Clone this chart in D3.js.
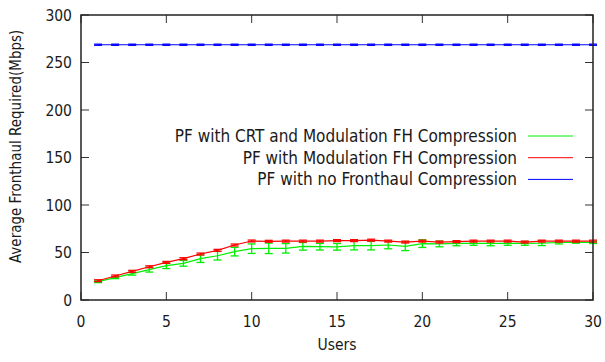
<!DOCTYPE html>
<html>
<head>
<meta charset="utf-8">
<script src="https://cdn.jsdelivr.net/npm/d3@7"></script>
<style>
  body { margin: 0; background: #fff; }
  svg text { font-family: "DejaVu Sans Condensed", "DejaVu Sans", sans-serif; fill: #1a1a1a; }
</style>
</head>
<body>
<div id="container"></div>
<script>
// data
const users = d3.range(1, 31)
const crtMean = [19.3, 23.5, 27.7, 31.9, 36.1, 38.6, 43.5, 46.6, 50.9, 54, 54.4, 54.4, 56.5, 56.1, 56, 57.2, 57.2, 57.9, 56.5, 59.3, 59, 59.6, 59.6, 59.6, 59.6, 59.6, 59.8, 60.5, 60.8, 60.5]
const crtErr = [1, 1, 1.5, 2.5, 3, 3, 4, 4.5, 4.5, 5, 5.5, 5, 4, 3.5, 3.5, 4.5, 4.5, 4, 4.5, 4, 3, 2.5, 2, 2.5, 2, 2, 2.5, 1.5, 1, 1]
const modMean = [20.3, 25.3, 30.2, 35, 39.6, 43.5, 48.4, 52.3, 57.9, 62.1, 61.8, 62, 62, 62, 62.5, 62.5, 63, 62, 61, 62, 61, 61.5, 62, 62, 62, 61, 62, 62, 62, 62]
const modErr = users.map(() => 1)
const noCompMean = users.map(() => 268.7)
const xTicks = [0, 5, 10, 15, 20, 25, 30]
const yTicks = [0, 50, 100, 150, 200, 250, 300]
const seriesNames = ["PF with CRT and Modulation FH Compression", "PF with Modulation FH Compression", "PF with no Fronthaul Compression"]
const seriesColors = ["#00ee00", "#ff0000", "#0000ff"]

const w = 605, h = 362
const m = { top: 15, right: 12, bottom: 62, left: 81 }
const fs = 15.5

const svg = d3.select("#container").append("svg")
    .attr("width", w).attr("height", h)

const x = d3.scaleLinear().domain([0, 30]).range([m.left, w - m.right])
const y = d3.scaleLinear().domain([0, 300]).range([h - m.bottom, m.top])

// ticks (inward, mirrored like gnuplot)
const tickLen = 8
const axes = svg.append("g").attr("stroke", "#333").attr("stroke-width", 1)
xTicks.forEach(t => {
    axes.append("line").attr("x1", x(t)).attr("x2", x(t)).attr("y1", y(0)).attr("y2", y(0) - tickLen)
    axes.append("line").attr("x1", x(t)).attr("x2", x(t)).attr("y1", y(300)).attr("y2", y(300) + tickLen)
})
yTicks.forEach(t => {
    axes.append("line").attr("y1", y(t)).attr("y2", y(t)).attr("x1", x(0)).attr("x2", x(0) + tickLen)
    axes.append("line").attr("y1", y(t)).attr("y2", y(t)).attr("x1", x(30)).attr("x2", x(30) - tickLen)
})

svg.selectAll(".xl").data(xTicks).join("text")
    .attr("x", d => x(d)).attr("y", y(0) + 27)
    .attr("text-anchor", "middle").attr("font-size", fs).text(d => d)
svg.selectAll(".yl").data(yTicks).join("text")
    .attr("x", 72).attr("y", d => y(d) + 5.5)
    .attr("text-anchor", "end").attr("font-size", fs).text(d => d)

svg.append("text").attr("x", (x(0) + x(30)) / 2).attr("y", 350)
    .attr("text-anchor", "middle").attr("font-size", fs).text("Users")
svg.append("text").attr("transform", "translate(21,263) rotate(-90)")
    .attr("text-anchor", "start").attr("font-size", 15).text("Average Fronthaul Required(Mbps)")

// series with error bars
const line = d3.line().x((d, i) => x(users[i])).y(d => y(d))
function drawSeries(means, errs, color) {
    const g = svg.append("g")
    const capW = 4
    users.forEach((u, i) => {
        const lo = y(means[i] - errs[i]), hi = y(means[i] + errs[i])
        g.append("line").attr("x1", x(u)).attr("x2", x(u)).attr("y1", lo).attr("y2", hi)
            .attr("stroke", color).attr("stroke-width", 1.3)
        g.append("line").attr("x1", x(u) - capW).attr("x2", x(u) + capW).attr("y1", lo).attr("y2", lo)
            .attr("stroke", color).attr("stroke-width", 1.3)
        g.append("line").attr("x1", x(u) - capW).attr("x2", x(u) + capW).attr("y1", hi).attr("y2", hi)
            .attr("stroke", color).attr("stroke-width", 1.3)
    })
    g.append("path").attr("d", line(means)).attr("fill", "none")
        .attr("stroke", color).attr("stroke-width", 1.2)
}
drawSeries(crtMean, crtErr, seriesColors[0])
drawSeries(modMean, modErr, seriesColors[1])
drawSeries(noCompMean, users.map(() => 0.6), seriesColors[2])

// legend
const leg = svg.append("g")
seriesNames.forEach((name, i) => {
    const ly = 136 + i * 21.7
    leg.append("text").attr("x", 517).attr("y", ly + 6).attr("text-anchor", "end")
        .attr("font-size", 17).text(name)
    leg.append("line").attr("x1", 528).attr("x2", 573).attr("y1", ly).attr("y2", ly)
        .attr("stroke", seriesColors[i]).attr("stroke-width", 1)
})

// border
svg.append("rect").attr("x", x(0)).attr("y", y(300))
    .attr("width", x(30) - x(0)).attr("height", y(0) - y(300))
    .attr("fill", "none").attr("stroke", "#222").attr("stroke-width", 1.5)
</script>
</body>
</html>
